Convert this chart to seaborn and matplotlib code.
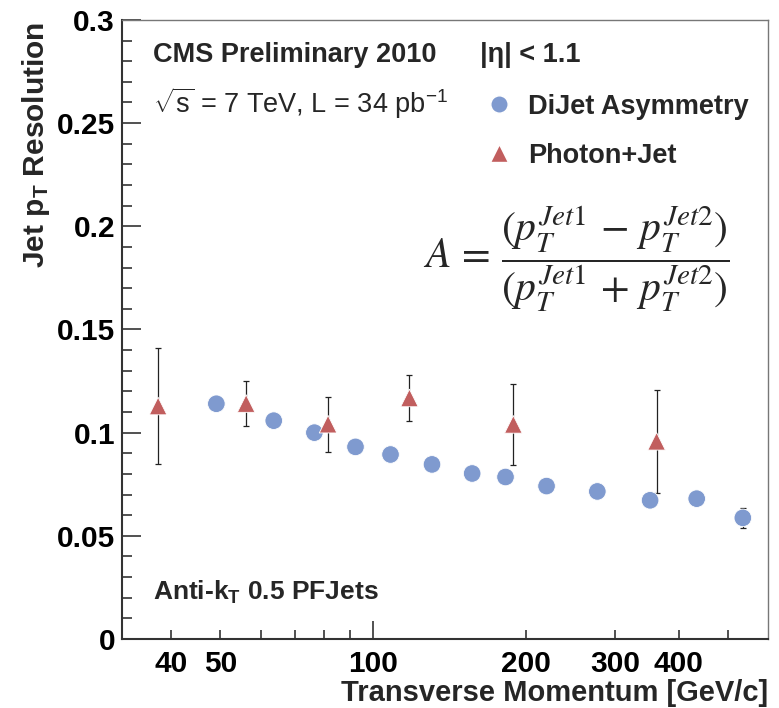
import matplotlib
matplotlib.use("Agg")
import matplotlib.pyplot as plt
import matplotlib.ticker as mticker
from matplotlib.lines import Line2D
import seaborn as sns
import pandas as pd

# DiJet asymmetry points
dijet_pt = [49.1, 63.7, 76.6, 92.3, 108.2, 130.6, 156.7, 182.3, 219.6, 276.5, 351.3, 434.0, 535.0]
dijet_res = [0.1140, 0.1058, 0.1000, 0.0931, 0.0894, 0.0846, 0.0802, 0.0785, 0.0741, 0.0715, 0.0672, 0.0680, 0.0587]
dijet_err = [0.001, 0.001, 0.001, 0.001, 0.001, 0.001, 0.001, 0.001, 0.001, 0.001, 0.001, 0.001, 0.0050]

# Photon+Jet points
gjet_pt = [37.7, 56.2, 81.5, 117.9, 188.9, 361.8]
gjet_res = [0.1129, 0.1141, 0.1041, 0.1168, 0.1040, 0.0958]
gjet_err = [0.0280, 0.0107, 0.0133, 0.0113, 0.0198, 0.0249]

x_major = [100]
x_minor = [40, 50, 60, 70, 80, 90, 200, 300, 400, 500]
x_minor_labels = {40: "40", 50: "50", 200: "200", 300: "300", 400: "400"}

blue = "#7f9acf"
red = "#c15e5e"

sns.set_style("white")
plt.rcParams["font.family"] = ["Liberation Sans", "DejaVu Sans"]
plt.rcParams["font.weight"] = "normal"
plt.rcParams["mathtext.fontset"] = "custom"
plt.rcParams["mathtext.rm"] = "Liberation Sans"
plt.rcParams["mathtext.bf"] = "Liberation Sans:bold"
plt.rcParams["mathtext.it"] = "Liberation Sans:italic"

df = pd.DataFrame({
    "pt": dijet_pt + gjet_pt,
    "res": dijet_res + gjet_res,
    "sample": ["DiJet Asymmetry"] * len(dijet_pt) + ["Photon+Jet"] * len(gjet_pt),
})

fig = plt.figure(figsize=(7.79, 7.08), dpi=100)
ax = fig.add_axes([0.1566, 0.0975, 0.8294, 0.8743])

ax.errorbar(gjet_pt, gjet_res, yerr=gjet_err, fmt="none", ecolor="#222222",
            elinewidth=0.9, capsize=2.5, capthick=0.9, zorder=1)
ax.errorbar(dijet_pt, dijet_res, yerr=dijet_err, fmt="none", ecolor="#222222",
            elinewidth=0.9, capsize=2.5, capthick=0.9, zorder=1)

sns.scatterplot(data=df, x="pt", y="res", hue="sample", style="sample",
                palette={"DiJet Asymmetry": blue, "Photon+Jet": red},
                markers={"DiJet Asymmetry": "o", "Photon+Jet": "^"},
                s=160, linewidth=0.6, edgecolor="white", legend=False, ax=ax, zorder=3)

ax.set_xscale("log")
ax.set_xlim(32, 600)
ax.set_ylim(0, 0.3)

ax.xaxis.set_major_locator(mticker.FixedLocator(x_major))
ax.xaxis.set_major_formatter(mticker.FixedFormatter(["100"]))
ax.xaxis.set_minor_locator(mticker.FixedLocator(x_minor))
ax.xaxis.set_minor_formatter(mticker.FuncFormatter(lambda v, p: x_minor_labels.get(int(round(v)), "")))

ax.yaxis.set_major_locator(mticker.MultipleLocator(0.05))
ax.yaxis.set_minor_locator(mticker.MultipleLocator(0.01))
ax.yaxis.set_major_formatter(mticker.FuncFormatter(lambda v, p: "0" if v == 0 else f"{v:g}"))

ax.tick_params(axis="both", which="both", direction="in", top=False, right=False,
               bottom=True, left=True, labelsize=21.5, colors="#333333", labelcolor="black")
ax.tick_params(axis="y", which="major", length=13.5, width=1.2, pad=5)
ax.tick_params(axis="y", which="minor", length=7.5, width=1.2)
ax.tick_params(axis="x", which="major", length=13, width=1.2, pad=8)
ax.tick_params(axis="x", which="minor", length=6.5, width=1.2, pad=8)

for side in ["left", "bottom"]:
    ax.spines[side].set_color("#333333")
    ax.spines[side].set_linewidth(1.5)
for side in ["top", "right"]:
    ax.spines[side].set_color("#777777")
    ax.spines[side].set_linewidth(1.0)

ax.set_xlabel("Transverse Momentum [GeV/c]", fontsize=21, fontweight="bold", loc="right", va="center")
ax.xaxis.set_label_coords(1.0, -0.088)
ax.set_ylabel(r"Jet p$_{\mathbf{T}}$ Resolution", fontsize=21.5, fontweight="bold", loc="top", va="center")
ax.yaxis.set_label_coords(-0.133, 0.997)

ax.text(0.048, 0.943, "CMS Preliminary 2010", transform=ax.transAxes, fontsize=19.5,
        fontweight="bold", va="center", ha="left")
ax.text(0.048, 0.866, r"$\sqrt{\mathrm{s}}$ = 7 TeV, L = 34 pb$^{\mathrm{-1}}$", transform=ax.transAxes,
        fontsize=19.5, fontweight="normal", va="center", ha="left")
ax.text(0.554, 0.943, "|η| < 1.1", transform=ax.transAxes, fontsize=19.5,
        fontweight="bold", va="center", ha="left")
ax.text(0.048, 0.076, r"Anti-k$_{\mathbf{T}}$ 0.5 PFJets", transform=ax.transAxes,
        fontsize=19, fontweight="bold", va="center", ha="left")

handles = [
    Line2D([], [], marker="o", color=blue, linestyle="none", markersize=12.5, markeredgecolor="white"),
    Line2D([], [], marker="^", color=red, linestyle="none", markersize=12.5, markeredgecolor="white"),
]
leg = ax.legend(handles, ["DiJet Asymmetry", "Photon+Jet"], loc="upper left",
                bbox_to_anchor=(0.52, 0.92), frameon=False, handlelength=1.2,
                handletextpad=0.5, labelspacing=0.85, prop={"size": 19.5, "weight": "bold"})

ax.text(0.703, 0.613,
        r"$A\,=\,\dfrac{(p_T^{Jet1}\,-\,p_T^{Jet2})}{(p_T^{Jet1}\,+\,p_T^{Jet2})}$",
        transform=ax.transAxes, fontsize=30, fontweight="normal", math_fontfamily="stix",
        va="center", ha="center")

plt.setp(ax.get_xticklabels(which="both"), fontweight="bold")
plt.setp(ax.get_yticklabels(which="both"), fontweight="bold")

fig.savefig("out.png", dpi=100)
